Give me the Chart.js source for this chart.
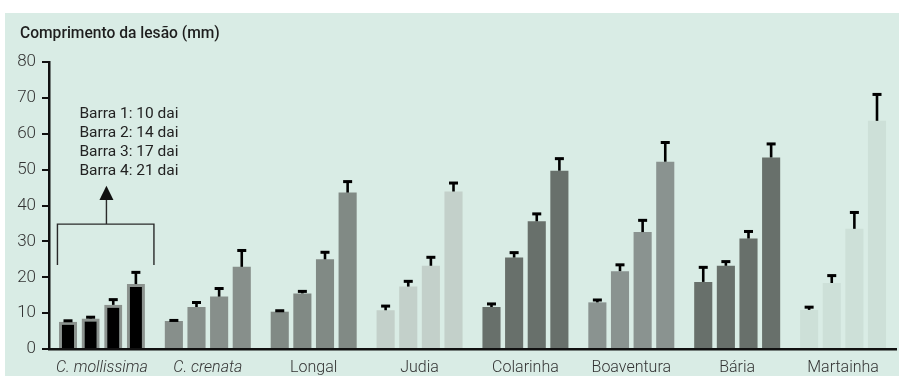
<!DOCTYPE html>
<html lang="pt">
<head>
  <meta charset="utf-8" />
  <title>Comprimento da lesão</title>
  <script src="https://cdn.jsdelivr.net/npm/chart.js@4.4.1/dist/chart.umd.min.js"></script>
  <style>
    html, body { margin: 0; padding: 0; background: #ffffff; }
    #wrap { position: relative; width: 899px; height: 376px; }
  </style>
</head>
<body>
  <div id="wrap"><canvas id="c"></canvas></div>

  <script>
    // cultivares / espécies
    const categories = ['C. mollissima', 'C. crenata', 'Longal', 'Judia', 'Colarinha', 'Boaventura', 'Bária', 'Martainha'];
    const italicCats = ['C. mollissima', 'C. crenata'];

    // comprimento médio da lesão (mm) em cada data
    const bar10 = [7.6, 7.8, 10.4, 10.8, 11.7, 13.0, 18.7, 10.9];
    const bar14 = [8.5, 11.7, 15.5, 17.4, 25.5, 21.7, 23.2, 18.4];
    const bar17 = [12.3, 14.6, 25.0, 23.2, 35.6, 32.6, 30.8, 33.5];
    const bar21 = [18.1, 22.9, 43.6, 43.9, 49.7, 52.2, 53.4, 63.6];

    // topo da barra de erro (mm)
    const err10 = [8.0, 8.1, 10.8, 12.1, 12.7, 13.8, 22.9, 11.8];
    const err14 = [9.0, 13.1, 16.2, 19.0, 27.0, 23.6, 24.5, 20.6];
    const err17 = [13.9, 17.0, 27.1, 25.7, 37.8, 36.0, 32.9, 38.2];
    const err21 = [21.5, 27.6, 46.8, 46.4, 53.2, 57.7, 57.3, 71.1];

    const yTicks = [0, 10, 20, 30, 40, 50, 60, 70, 80];
    const legendLines = ['Barra 1: 10 dai', 'Barra 2: 14 dai', 'Barra 3: 17 dai', 'Barra 4: 21 dai'];

    const fills = ['#000000', '#878f8b', '#818a85', '#c3d0ca', '#68706b', '#8a9390', '#68706b', '#cde0d8'];
    const edges = ['#8c938f', '#878f8b', '#818a85', '#c3d0ca', '#68706b', '#8a9390', '#68706b', '#cde0d8'];
    const edgeW = [3, 0, 0, 0, 0, 0, 0, 0];

    const FONT = 'Roboto, "Noto Sans", sans-serif';

    function ds(label, data) {
      return {
        label,
        data,
        backgroundColor: fills,
        borderColor: edges,
        borderWidth: edgeW,
        borderSkipped: 'bottom',
        categoryPercentage: 0.855,
        barPercentage: 0.8,
      };
    }

    const errors = [err10, err14, err17, err21];

    const decor = {
      id: 'decor',
      beforeDraw(chart) {
        const { ctx, width, height } = chart;
        ctx.save();
        ctx.fillStyle = '#d9ece5';
        ctx.fillRect(5, 13, width - 5, height - 13);
        ctx.fillStyle = '#1e1e1e';
        ctx.font = '500 15.6px ' + FONT;
        ctx.textBaseline = 'middle';
        ctx.fillText('Comprimento da lesão (mm)', 20, 34);
        ctx.restore();
      },
      afterDatasetsDraw(chart) {
        const { ctx } = chart;
        const x = chart.scales.x;
        const y = chart.scales.y;
        ctx.save();
        // barras de erro
        ctx.strokeStyle = '#000';
        ctx.fillStyle = '#000';
        chart.data.datasets.forEach((d, di) => {
          const meta = chart.getDatasetMeta(di);
          meta.data.forEach((bar, i) => {
            const top = y.getPixelForValue(errors[di][i]);
            const base = y.getPixelForValue(d.data[i]);
            ctx.lineWidth = 2.6;
            ctx.beginPath();
            ctx.moveTo(bar.x, base);
            ctx.lineTo(bar.x, top);
            ctx.stroke();
            ctx.fillRect(bar.x - 4.5, top - 1, 9, 3);
          });
        });

        // chaveta + seta + legenda sobre o primeiro grupo
        const cx = x.getPixelForValue(0);
        const left = cx - 44.5, right = cx + 52, ax = cx + 4.5;
        const bTop = y.getPixelForValue(34.8), bBot = y.getPixelForValue(23.4);
        const tip = y.getPixelForValue(45.5), head = y.getPixelForValue(41.5);
        ctx.strokeStyle = '#2a2a2a';
        ctx.fillStyle = '#111';
        ctx.lineWidth = 1.4;
        ctx.beginPath();
        ctx.moveTo(left, bBot);
        ctx.lineTo(left, bTop);
        ctx.lineTo(right, bTop);
        ctx.lineTo(right, bBot);
        ctx.moveTo(ax, bTop);
        ctx.lineTo(ax, head);
        ctx.stroke();
        ctx.beginPath();
        ctx.moveTo(ax, tip);
        ctx.lineTo(ax - 7, head);
        ctx.lineTo(ax + 7, head);
        ctx.closePath();
        ctx.fill();

        ctx.fillStyle = '#222';
        ctx.font = '15.5px ' + FONT;
        ctx.textBaseline = 'middle';
        const firstLine = y.getPixelForValue(65.6);
        legendLines.forEach((t, k) => ctx.fillText(t, cx - 22.5, firstLine + k * 19));
        ctx.restore();
      },
    };

    new Chart(document.getElementById('c'), {
      type: 'bar',
      data: {
        labels: categories,
        datasets: [ds('10 dai', bar10), ds('14 dai', bar14), ds('17 dai', bar17), ds('21 dai', bar21)],
      },
      options: {
        responsive: true,
        maintainAspectRatio: false,
        animation: false,
        layout: { padding: { top: 62, right: 3, left: 0, bottom: 0 } },
        plugins: {
          legend: { display: false },
          tooltip: { enabled: false },
          title: { display: false },
        },
        scales: {
          x: {
            grid: { display: false, drawTicks: false },
            border: { display: true, color: '#111', width: 2.5 },
            ticks: {
              padding: 9,
              color: '#333',
              font: (c) => ({ family: FONT, size: 16, weight: 300,
                style: italicCats.includes(categories[c.index]) ? 'italic' : 'normal' }),
            },
            afterFit: (s) => { s.height = 27; },
          },
          y: {
            min: 0,
            max: 80,
            afterBuildTicks: (s) => { s.ticks = yTicks.map((v) => ({ value: v })); },
            grid: { drawOnChartArea: false, drawTicks: true, tickLength: 7, color: '#111', lineWidth: 2 },
            border: { display: true, color: '#111', width: 2.5 },
            ticks: { padding: 6, color: '#333', font: { family: FONT, size: 17, weight: 300 } },
            afterFit: (s) => { s.width = 49; },
          },
        },
      },
      plugins: [decor],
    });
  </script>
</body>
</html>
